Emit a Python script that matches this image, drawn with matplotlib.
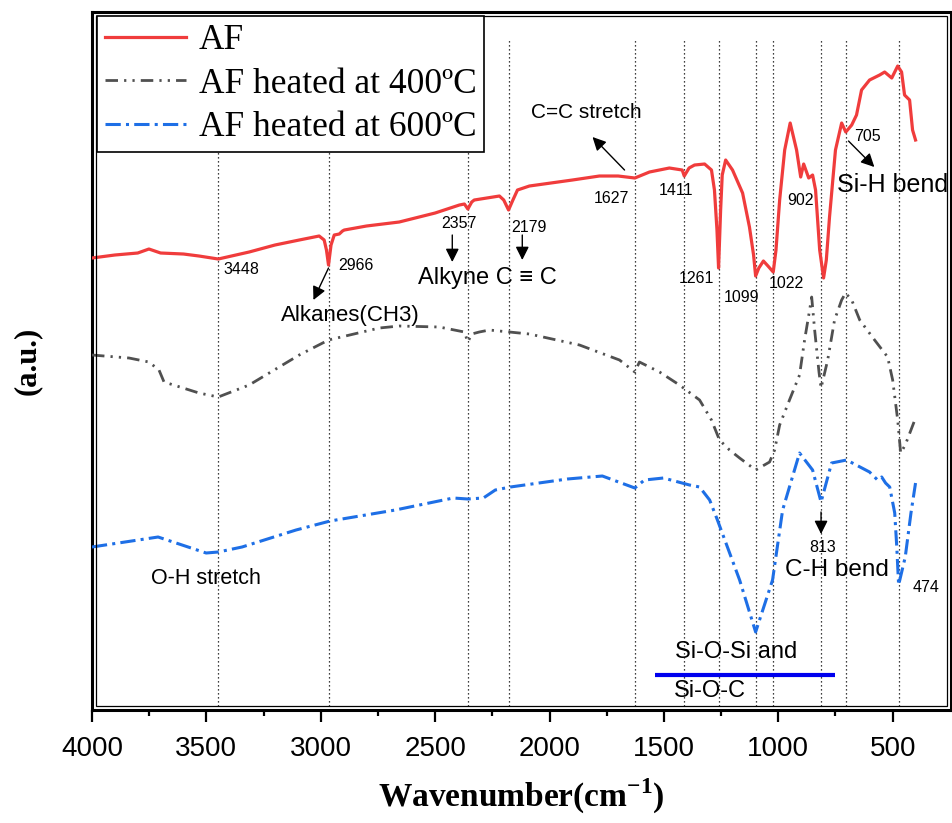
import numpy as np
import matplotlib
matplotlib.use('Agg')
import matplotlib.pyplot as plt
from matplotlib.patches import Rectangle

matplotlib.rcParams['font.family'] = ['Liberation Sans', 'DejaVu Sans']
matplotlib.rcParams['mathtext.fontset'] = 'custom'
matplotlib.rcParams['mathtext.rm'] = 'Liberation Serif:bold'
matplotlib.rcParams['mathtext.bf'] = 'Liberation Serif:bold'

# --- spectra (wavenumber [cm-1], intensity [a.u.]) ---
af_w = [4000, 3900, 3800, 3751, 3700, 3600, 3532, 3448, 3313, 3200, 3094, 3007,
        2985, 2975, 2966, 2955, 2941, 2919, 2905, 2897, 2800, 2657, 2500, 2394,
        2372, 2357, 2340, 2329, 2219, 2200, 2179, 2160, 2140, 2088, 1900, 1782,
        1700, 1627, 1563, 1476, 1420, 1411, 1390, 1366, 1322, 1292, 1279, 1268,
        1261, 1252, 1245, 1230, 1200, 1156, 1126, 1108, 1099, 1085, 1065, 1045,
        1022, 1010, 994, 972, 948, 920, 902, 889, 867, 850, 837, 819, 802, 790,
        776, 750, 723, 705, 679, 658, 636, 601, 557, 535, 504, 478, 461, 448,
        426, 413, 400]
af_i = [45.2, 45.5, 45.7, 46.1, 45.7, 45.6, 45.4, 45.1, 45.8, 46.5, 47.0, 47.4,
        47.0, 46.0, 44.5, 46.5, 47.5, 47.6, 47.9, 48.0, 48.4, 48.8, 49.7, 50.5,
        50.6, 50.1, 50.8, 51.0, 51.4, 51.0, 50.0, 51.0, 52.0, 52.4, 53.0, 53.4,
        53.4, 53.2, 53.8, 54.2, 54.0, 53.4, 54.2, 54.5, 54.6, 54.0, 52.0, 48.0,
        44.2, 50.0, 53.5, 55.0, 54.0, 51.7, 48.3, 45.5, 43.4, 44.2, 44.9, 44.4,
        43.8, 46.0, 51.0, 56.0, 58.7, 56.0, 53.3, 54.6, 53.2, 53.5, 52.0, 46.0,
        43.2, 45.0, 49.3, 56.0, 58.7, 57.8, 58.5, 59.5, 62.0, 63.0, 63.5, 63.8,
        63.2, 64.4, 63.8, 61.5, 61.0, 58.0, 57.0]

af400_w = [4000, 3838, 3751, 3707, 3685, 3532, 3448, 3313, 3094, 2966, 2744, 2657,
           2482, 2372, 2357, 2340, 2307, 2263, 2088, 1869, 1694, 1627, 1607, 1519,
           1432, 1344, 1292, 1257, 1213, 1169, 1099, 1038, 1016, 994, 951, 907,
           885, 863, 854, 841, 822, 813, 784, 754, 723, 706, 679, 644, 579, 522,
           500, 478, 465, 445, 400]
af400_i = [35.5, 35.2, 34.8, 34.0, 32.8, 31.7, 31.3, 32.5, 35.5, 37.0, 38.2, 38.4,
           38.3, 37.8, 36.8, 37.6, 37.8, 38.0, 37.6, 36.5, 35.0, 33.8, 34.8, 33.8,
           32.5, 31.0, 29.0, 27.0, 26.0, 25.2, 24.0, 24.8, 26.0, 28.5, 31.0, 33.5,
           37.0, 40.0, 41.3, 38.0, 33.8, 32.2, 35.0, 39.0, 41.0, 41.7, 41.0, 39.0,
           37.0, 35.3, 33.0, 29.0, 25.7, 26.5, 29.2]

af600_w = [4000, 3711, 3501, 3448, 3344, 3108, 2959, 2674, 2421, 2357, 2289, 2237,
           2171, 1922, 1769, 1627, 1585, 1502, 1388, 1344, 1300, 1266, 1169, 1099,
           1025, 981, 907, 850, 813, 767, 701, 601, 566, 548, 531, 513, 491, 482,
           474, 445, 420, 400]
af600_i = [16.3, 17.3, 15.7, 15.8, 16.3, 18.0, 18.9, 20.0, 21.2, 21.1, 21.2, 22.0,
           22.3, 23.1, 23.4, 22.2, 23.0, 23.2, 22.5, 22.3, 21.0, 19.0, 13.0, 7.8,
           13.0, 20.0, 25.7, 24.0, 20.8, 24.7, 25.0, 23.8, 23.0, 23.3, 22.7, 22.3,
           19.7, 16.3, 12.5, 15.3, 19.7, 22.7]

peaks = [3448, 2966, 2357, 2179, 1627, 1411, 1261, 1099, 1022, 813, 705, 474]

# number labels: (text, x, y)
num_labels = [('3448', 3348, 44.1), ('2966', 2845, 44.5), ('2357', 2398, 48.7),
              ('2179', 2088, 48.3), ('1627', 1729, 51.2), ('1411', 1445, 52.0),
              ('1261', 1358, 43.2), ('1099', 1161, 41.3), ('1022', 964, 42.7),
              ('902', 903, 51.0), ('705', 609, 57.4), ('813', 806, 16.3),
              ('474', 356, 12.3)]
# band labels: (text, x, y, size)
band_labels = [('Alkanes(CH3)', 2871, 39.5, 16), ('Alkyne C \u2261 C', 2272, 43.2, 17),
               ('C=C stretch', 1838, 59.8, 15), ('Si-H bend', 500, 52.5, 18),
               ('C-H bend', 743, 14.0, 17.5), ('O-H stretch', 3501, 13.2, 15.5),
               ('Si-O-Si and', 1183, 5.8, 17), ('Si-O-C', 1300, 1.9, 17)]
# arrows: (tail x, tail y, head x, head y)
arrows = [(2966, 44.2, 3032, 41.0), (2425, 47.5, 2425, 44.8),
          (2119, 47.5, 2119, 45.0), (1672, 54.0, 1812, 57.3),
          (693, 56.9, 580, 54.3), (813, 19.8, 813, 17.6)]

fig = plt.figure(figsize=(9.53, 8.23), dpi=100)
ax = fig.add_axes([0.0965, 0.1373, 0.9014, 0.8481])

for w in peaks:
    ax.axvline(w, ymin=0, ymax=0.96, color='k', lw=0.9, ls=(0, (1, 2.2)), zorder=1)

ax.plot(af_w, af_i, color='#F03C3C', lw=2.3, label='AF', zorder=3)
ax.plot(af400_w, af400_i, color='#505050', lw=2.0,
        ls=(0, (4.5, 2.2, 0.8, 2.2, 0.8, 2.2)), label='AF heated at 400\u00baC', zorder=3)
ax.plot(af600_w, af600_i, color='#1E6FE6', lw=2.2,
        ls=(0, (5, 1.7, 1, 1.7)), label='AF heated at 600\u00baC', zorder=3)

for s, x, y in num_labels:
    ax.text(x, y, s, ha='center', va='center', fontsize=11.5)
for s, x, y, fs in band_labels:
    ax.text(x, y, s, ha='center', va='center', fontsize=fs)
for x0, y0, x1, y1 in arrows:
    ax.annotate('', xy=(x1, y1), xytext=(x0, y0),
                arrowprops=dict(arrowstyle='-|>', color='k', lw=1.0,
                                shrinkA=0, shrinkB=0, mutation_scale=20))

# Si-O-Si / Si-O-C band marker
ax.plot([1541, 754], [3.5, 3.5], color='#0000EE', lw=3, solid_capstyle='butt')

ax.set_xlim(4000, 245)
ax.set_ylim(0, 69.8)
ax.set_xticks([4000, 3500, 3000, 2500, 2000, 1500, 1000, 500])
ax.set_xticks(np.arange(3750, 300, -500), minor=True)
ax.set_yticks([])
ax.tick_params(axis='x', which='major', direction='out', length=8.6, width=1.6,
               pad=10, labelsize=20)
ax.tick_params(axis='x', which='minor', direction='out', length=4.3, width=1.6)
for sp in ax.spines.values():
    sp.set_linewidth(2.2)
ax.add_patch(Rectangle((4 / 859, 4 / 698), 1 - 8 / 859, 1 - 8 / 698,
                       transform=ax.transAxes, fill=False, lw=0.9,
                       edgecolor='k', zorder=5, clip_on=False))

ax.set_xlabel('Wavenumber(cm$^{-1}$)', fontfamily='Liberation Serif',
              fontweight='bold', fontsize=24, labelpad=11)
ax.set_ylabel('(a.u.)', fontfamily='Liberation Serif', fontweight='bold',
              fontsize=22, labelpad=36)

leg = ax.legend(loc='upper left', bbox_to_anchor=(0.006, 0.994), borderaxespad=0,
                prop={'family': 'Liberation Serif', 'size': 25.5},
                handlelength=2.3, handletextpad=0.35, labelspacing=0.3,
                borderpad=0.22, fancybox=False, edgecolor='k', framealpha=1)
leg.get_frame().set_linewidth(1.2)
leg.set_zorder(6)

fig.savefig('out.png', dpi=100)
